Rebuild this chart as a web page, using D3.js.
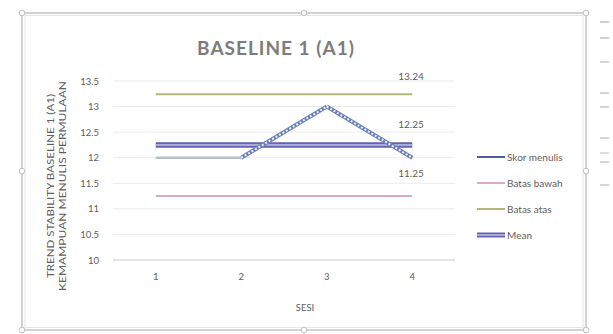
<!DOCTYPE html>
<html>
<head>
<meta charset="utf-8">
<script src="https://cdn.jsdelivr.net/npm/d3@7"></script>
<style>
  html, body { margin: 0; padding: 0; background: #fff; }
  svg { display: block; }
  text { font-family: "Lato", "Open Sans", sans-serif; }
</style>
</head>
<body>
<svg id="chart" width="613" height="334"></svg>
<script>
// Sessions and scores for baseline phase A1
const sessions = ["1", "2", "3", "4"];
const skorMenulis = [12, 12, 13, 12];
const batasBawah = [11.25, 11.25, 11.25, 11.25];
const batasAtas = [13.24, 13.24, 13.24, 13.24];
const meanLine = [12.25, 12.25, 12.25, 12.25];
const yTicks = [10, 10.5, 11, 11.5, 12, 12.5, 13, 13.5];
const legendNames = ["Skor menulis", "Batas bawah", "Batas atas", "Mean"];

const svg = d3.select("#chart");

// Object frame around the chart
const frame = svg.append("g");
frame.append("rect").attr("x", 22).attr("y", 13).attr("width", 564).attr("height", 317)
  .attr("fill", "none").attr("stroke", "#c4c4c4").attr("stroke-width", 1.5);
frame.append("rect").attr("x", 25).attr("y", 15.5).attr("width", 558).attr("height", 312)
  .attr("fill", "none").attr("stroke", "#e6e6e6").attr("stroke-width", 1);
[[304, 13], [22, 171], [586, 171], [304, 330], [22, 13], [586, 13], [22, 330], [586, 330]].forEach(([hx, hy]) => {
  frame.append("circle").attr("cx", hx).attr("cy", hy).attr("r", 2.8)
    .attr("fill", "#fff").attr("stroke", "#c0c0c0");
});
// neighbouring object fragments at the right edge
[[22, "#a8b0b0"], [38, "#a8b0b0"], [62, "#bbb"], [93, "#bbb"], [107, "#bbb"], [138, "#bbb"], [153, "#c8c8c8"], [162, "#bbb"], [185, "#bbb"]]
  .forEach(([ly, c]) => frame.append("line").attr("x1", 600).attr("x2", 609).attr("y1", ly).attr("y2", ly)
    .attr("stroke", c).attr("stroke-width", 1.2));

const margin = { left: 113, right: 455, top: 81, bottom: 260 };

const x = d3.scaleBand().domain(sessions).range([margin.left, margin.right]);
const y = d3.scaleLinear().domain([10, 13.5]).range([margin.bottom, margin.top]);
const cx = d => x(d) + x.bandwidth() / 2;

// Title
svg.append("text").attr("x", 276).attr("y", 55).attr("text-anchor", "middle")
  .attr("font-size", 19).attr("font-weight", 700).attr("letter-spacing", 1)
  .attr("fill", "#7c7c7c").text("BASELINE 1 (A1)");

// Horizontal gridlines
svg.append("g").selectAll("line").data(yTicks).join("line")
  .attr("x1", margin.left).attr("x2", margin.right)
  .attr("y1", d => y(d)).attr("y2", d => y(d))
  .attr("stroke", d => d === 10 ? "#cccccc" : "#ebebeb").attr("stroke-width", 1);

// Y axis labels
const yAxis = d3.axisLeft(y).tickValues(yTicks).tickSize(0).tickPadding(14)
  .tickFormat(d => String(d));
svg.append("g").attr("transform", `translate(${margin.left},0)`).call(yAxis)
  .call(g => g.select(".domain").remove())
  .call(g => g.selectAll("text").attr("font-size", 9.5).attr("fill", "#606060")
    .style("font-family", "Lato, sans-serif"));

// X axis labels
const xAxis = d3.axisBottom(x).tickSize(0).tickPadding(13);
svg.append("g").attr("transform", `translate(0,${margin.bottom})`).call(xAxis)
  .call(g => g.select(".domain").remove())
  .call(g => g.selectAll("text").attr("font-size", 9.5).attr("fill", "#606060")
    .style("font-family", "Lato, sans-serif"));

// Axis titles
svg.append("text").attr("x", 305).attr("y", 311).attr("text-anchor", "middle")
  .attr("font-size", 9.5).attr("fill", "#606060").text("SESI");
const yTitle = svg.append("g").attr("transform", "translate(54,186) rotate(-90)");
yTitle.append("text").attr("x", 0).attr("y", 0).attr("text-anchor", "middle")
  .attr("font-size", 9).attr("fill", "#606060")
  .attr("textLength", 184).attr("lengthAdjust", "spacingAndGlyphs")
  .text("TREND STABILITY BASELINE 1 (A1)");
yTitle.append("text").attr("x", 0).attr("y", 12).attr("text-anchor", "middle")
  .attr("font-size", 9).attr("fill", "#606060")
  .attr("textLength", 210).attr("lengthAdjust", "spacingAndGlyphs")
  .text("KEMAMPUAN MENULIS PERMULAAN");

const lineGen = d3.line().x((d, i) => cx(sessions[i])).y(d => y(d));

// Batas atas
svg.append("path").datum(batasAtas).attr("d", lineGen)
  .attr("fill", "none").attr("stroke", "#b2b676").attr("stroke-width", 2);
// Batas bawah
svg.append("path").datum(batasBawah).attr("d", lineGen)
  .attr("fill", "none").attr("stroke", "#dcacbc").attr("stroke-width", 2);
// Mean (double line)
svg.append("path").datum(meanLine).attr("d", lineGen)
  .attr("fill", "none").attr("stroke", "#6262b0").attr("stroke-width", 5.5);
svg.append("path").datum(meanLine).attr("d", lineGen)
  .attr("fill", "none").attr("stroke", "#c4c4ea").attr("stroke-width", 1.6);

// Skor menulis, segment by segment
const segs = d3.pairs(skorMenulis.map((v, i) => [cx(sessions[i]), y(v)]));
segs.forEach(([a, b], i) => {
  if (i === 0) {
    svg.append("line").attr("x1", a[0]).attr("y1", a[1]).attr("x2", b[0]).attr("y2", b[1])
      .attr("stroke", "#b6bed0").attr("stroke-width", 2.5);
  } else {
    svg.append("line").attr("x1", a[0]).attr("y1", a[1]).attr("x2", b[0]).attr("y2", b[1])
      .attr("stroke", "#6a7eb8").attr("stroke-width", 4);
    svg.append("line").attr("x1", a[0]).attr("y1", a[1]).attr("x2", b[0]).attr("y2", b[1])
      .attr("stroke", "#eaf0f8").attr("stroke-width", 2).attr("stroke-dasharray", "2,2");
  }
});

// Value labels at the last session
const last = sessions[sessions.length - 1];
[[batasAtas, -14, -14], [meanLine, -14, -17], [batasBawah, -14, -19]].forEach(([arr, dx, dy]) => {
  const v = arr[arr.length - 1];
  svg.append("text").attr("x", cx(last) + dx).attr("y", y(v) + dy)
    .attr("font-size", 10).attr("fill", "#606060").text(v.toFixed(2));
});

// Legend
const legendColors = ["#4c5c9c", "#dcacbc", "#b2b676", "#6262b0"];
const lg = svg.append("g");
legendNames.forEach((name, i) => {
  const ly = 157 + i * 26;
  if (i === 3) {
    lg.append("line").attr("x1", 477).attr("x2", 505).attr("y1", ly).attr("y2", ly)
      .attr("stroke", legendColors[i]).attr("stroke-width", 5);
    lg.append("line").attr("x1", 477).attr("x2", 505).attr("y1", ly).attr("y2", ly)
      .attr("stroke", "#c4c4ea").attr("stroke-width", 1.4);
  } else {
    lg.append("line").attr("x1", 477).attr("x2", 505).attr("y1", ly).attr("y2", ly)
      .attr("stroke", legendColors[i]).attr("stroke-width", 2);
  }
  lg.append("text").attr("x", 507).attr("y", ly + 3.5).attr("font-size", 10)
    .attr("fill", "#606060").text(name);
});
</script>
</body>
</html>
